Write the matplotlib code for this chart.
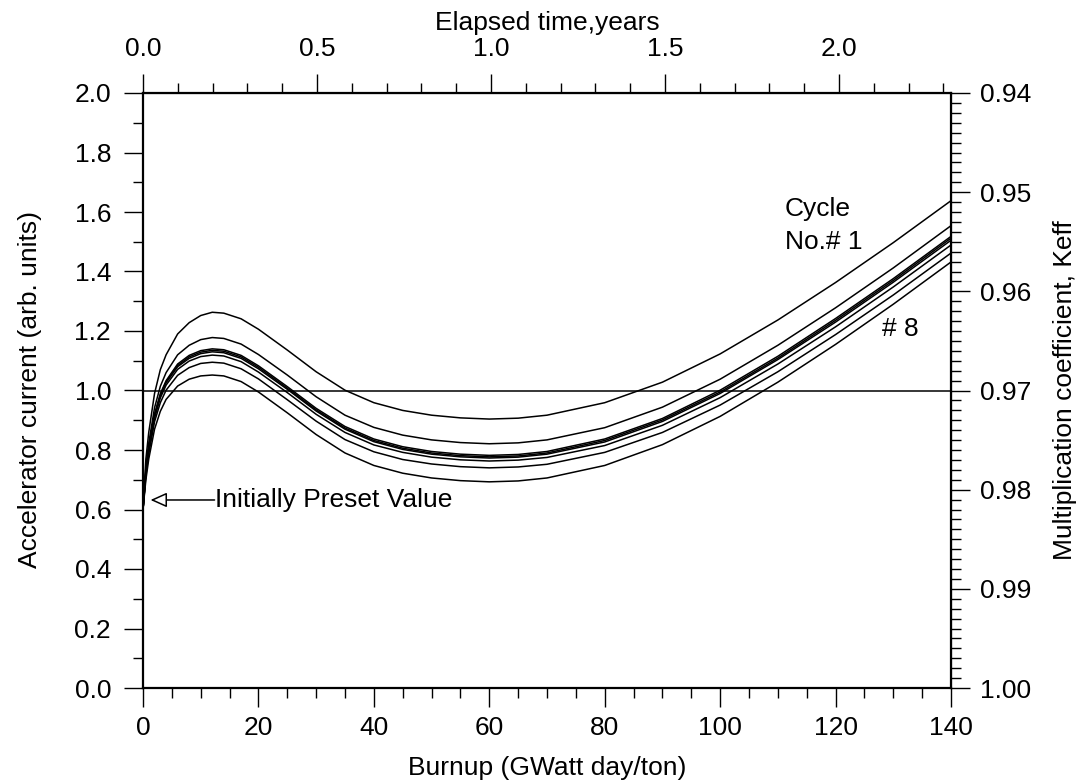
import matplotlib
matplotlib.use("Agg")
import matplotlib.pyplot as plt
from matplotlib.ticker import MultipleLocator, FixedLocator, FormatStrFormatter

plt.rcParams["font.family"] = ["Liberation Sans", "DejaVu Sans"]

# burnup grid (GWatt day/ton) and accelerator current for cycles #1 .. #8
burnup = [0, 0.5, 1, 2, 3, 4, 6, 8, 10, 12, 14, 17, 20, 25, 30, 35, 40, 45,
          50, 55, 60, 65, 70, 80, 90, 100, 110, 120, 130, 140]

cycle1 = [0.600, 0.770, 0.860, 0.990, 1.070, 1.120, 1.190, 1.228, 1.252, 1.263,
          1.260, 1.241, 1.206, 1.136, 1.063, 1.001, 0.959, 0.933, 0.917, 0.908,
          0.904, 0.907, 0.917, 0.959, 1.028, 1.123, 1.237, 1.363, 1.497, 1.638]
cycle2 = [0.600, 0.742, 0.824, 0.942, 1.014, 1.060, 1.120, 1.152, 1.171, 1.178,
          1.175, 1.156, 1.121, 1.052, 0.979, 0.917, 0.876, 0.850, 0.834, 0.825,
          0.821, 0.824, 0.834, 0.875, 0.944, 1.038, 1.152, 1.278, 1.412, 1.554]
cycle3 = [0.600, 0.729, 0.808, 0.920, 0.989, 1.033, 1.089, 1.118, 1.134, 1.140,
          1.137, 1.118, 1.083, 1.013, 0.940, 0.879, 0.837, 0.811, 0.795, 0.786,
          0.782, 0.785, 0.795, 0.837, 0.906, 1.001, 1.115, 1.242, 1.376, 1.518]
cycle4 = [0.600, 0.728, 0.806, 0.917, 0.985, 1.029, 1.084, 1.113, 1.129, 1.135,
          1.132, 1.113, 1.078, 1.008, 0.935, 0.874, 0.832, 0.806, 0.790, 0.781,
          0.777, 0.780, 0.790, 0.832, 0.901, 0.995, 1.109, 1.236, 1.370, 1.512]
cycle5 = [0.600, 0.726, 0.803, 0.914, 0.982, 1.026, 1.080, 1.108, 1.124, 1.130,
          1.127, 1.108, 1.073, 1.004, 0.931, 0.870, 0.828, 0.802, 0.786, 0.777,
          0.773, 0.776, 0.786, 0.827, 0.896, 0.990, 1.104, 1.230, 1.364, 1.505]
cycle6 = [0.600, 0.722, 0.799, 0.908, 0.975, 1.018, 1.071, 1.099, 1.114, 1.119,
          1.116, 1.097, 1.062, 0.993, 0.920, 0.859, 0.817, 0.792, 0.776, 0.767,
          0.763, 0.766, 0.775, 0.815, 0.883, 0.976, 1.089, 1.214, 1.348, 1.489]
cycle7 = [0.600, 0.714, 0.788, 0.895, 0.959, 1.001, 1.051, 1.077, 1.091, 1.095,
          1.092, 1.073, 1.039, 0.969, 0.897, 0.835, 0.794, 0.768, 0.753, 0.744,
          0.740, 0.743, 0.752, 0.792, 0.859, 0.951, 1.063, 1.188, 1.321, 1.462]
cycle8 = [0.600, 0.700, 0.770, 0.870, 0.930, 0.970, 1.015, 1.038, 1.049, 1.052,
          1.049, 1.030, 0.995, 0.925, 0.852, 0.790, 0.748, 0.722, 0.706, 0.697,
          0.693, 0.696, 0.706, 0.748, 0.818, 0.913, 1.028, 1.155, 1.290, 1.432]

cycles = [cycle1, cycle2, cycle3, cycle4, cycle5, cycle6, cycle7, cycle8]

year_ticks = [0.0, 0.5, 1.0, 1.5, 2.0]
keff_ticks = [0.94, 0.95, 0.96, 0.97, 0.98, 0.99, 1.00]

# burnup per year, current -> keff
burnup_per_year = 60.3


def to_years(b):
    return b / burnup_per_year


def to_burnup(t):
    return t * burnup_per_year


def to_keff(i):
    return 1.0 - 0.03 * i


def to_current(k):
    return (1.0 - k) / 0.03


W, H = 1090, 781
fig = plt.figure(figsize=(W / 100, H / 100), dpi=100)
ax = fig.add_axes([143 / W, 1 - 688 / H, 808 / W, 595 / H])

for c in cycles:
    ax.plot(burnup, c, color="black", lw=1.1)
ax.axhline(1.0, color="black", lw=1.1)

ax.set_xlim(0, 140)
ax.set_ylim(0, 2.0)
ax.xaxis.set_major_locator(MultipleLocator(20))
ax.xaxis.set_minor_locator(MultipleLocator(5))
ax.yaxis.set_major_locator(MultipleLocator(0.2))
ax.yaxis.set_minor_locator(MultipleLocator(0.1))
ax.yaxis.set_major_formatter(FormatStrFormatter("%.1f"))

fs = 19
tick_kw = dict(direction="out", width=1.0, labelsize=fs, color="black")
ax.tick_params(axis="x", which="major", length=14, pad=6, **tick_kw)
ax.tick_params(axis="y", which="major", length=14, pad=9, **tick_kw)
ax.tick_params(which="minor", length=7, **tick_kw)
for s in ax.spines.values():
    s.set_linewidth(1.6)

top = ax.secondary_xaxis("top", functions=(to_years, to_burnup))
top.xaxis.set_major_locator(FixedLocator(year_ticks))
top.xaxis.set_minor_locator(MultipleLocator(0.1))
top.xaxis.set_major_formatter(FormatStrFormatter("%.1f"))
top.tick_params(which="major", length=14, pad=9, **tick_kw)
top.tick_params(which="minor", length=7, **tick_kw)

right = ax.secondary_yaxis("right", functions=(to_keff, to_current))
right.yaxis.set_major_locator(FixedLocator(keff_ticks))
right.yaxis.set_minor_locator(MultipleLocator(0.001))
right.yaxis.set_major_formatter(FormatStrFormatter("%.2f"))
right.tick_params(which="major", length=14, pad=7, **tick_kw)
right.tick_params(which="minor", length=7, **tick_kw)

# axis titles placed at the reference pixel positions
fig.text(547 / W, 1 - 775 / H, "Burnup (GWatt day/ton)", fontsize=fs,
         ha="center", va="baseline")
fig.text(547 / W, 1 - 30 / H, "Elapsed time,years", fontsize=fs,
         ha="center", va="baseline")
fig.text(30 / W, 1 - 390 / H, "Accelerator current (arb. units)", fontsize=fs,
         ha="center", va="center", rotation=90)
fig.text(1065 / W, 1 - 390 / H, "Multiplication coefficient, Keff", fontsize=fs,
         ha="center", va="center", rotation=90)

ax.annotate("", xy=(1.3, 0.632), xytext=(12.4, 0.632),
            arrowprops=dict(arrowstyle="-|>,head_length=1.0,head_width=0.45",
                            mutation_scale=10, facecolor="white",
                            edgecolor="black", lw=1.1, shrinkA=0, shrinkB=0))
ax.text(12.5, 0.632, "Initially Preset Value", fontsize=fs, ha="left", va="center")
ax.text(111.2, 1.610, "Cycle", fontsize=fs, ha="left", va="center")
ax.text(111.2, 1.499, "No.# 1", fontsize=fs, ha="left", va="center")
ax.text(128.0, 1.207, "# 8", fontsize=fs, ha="left", va="center")

fig.savefig("out.png", dpi=100)
